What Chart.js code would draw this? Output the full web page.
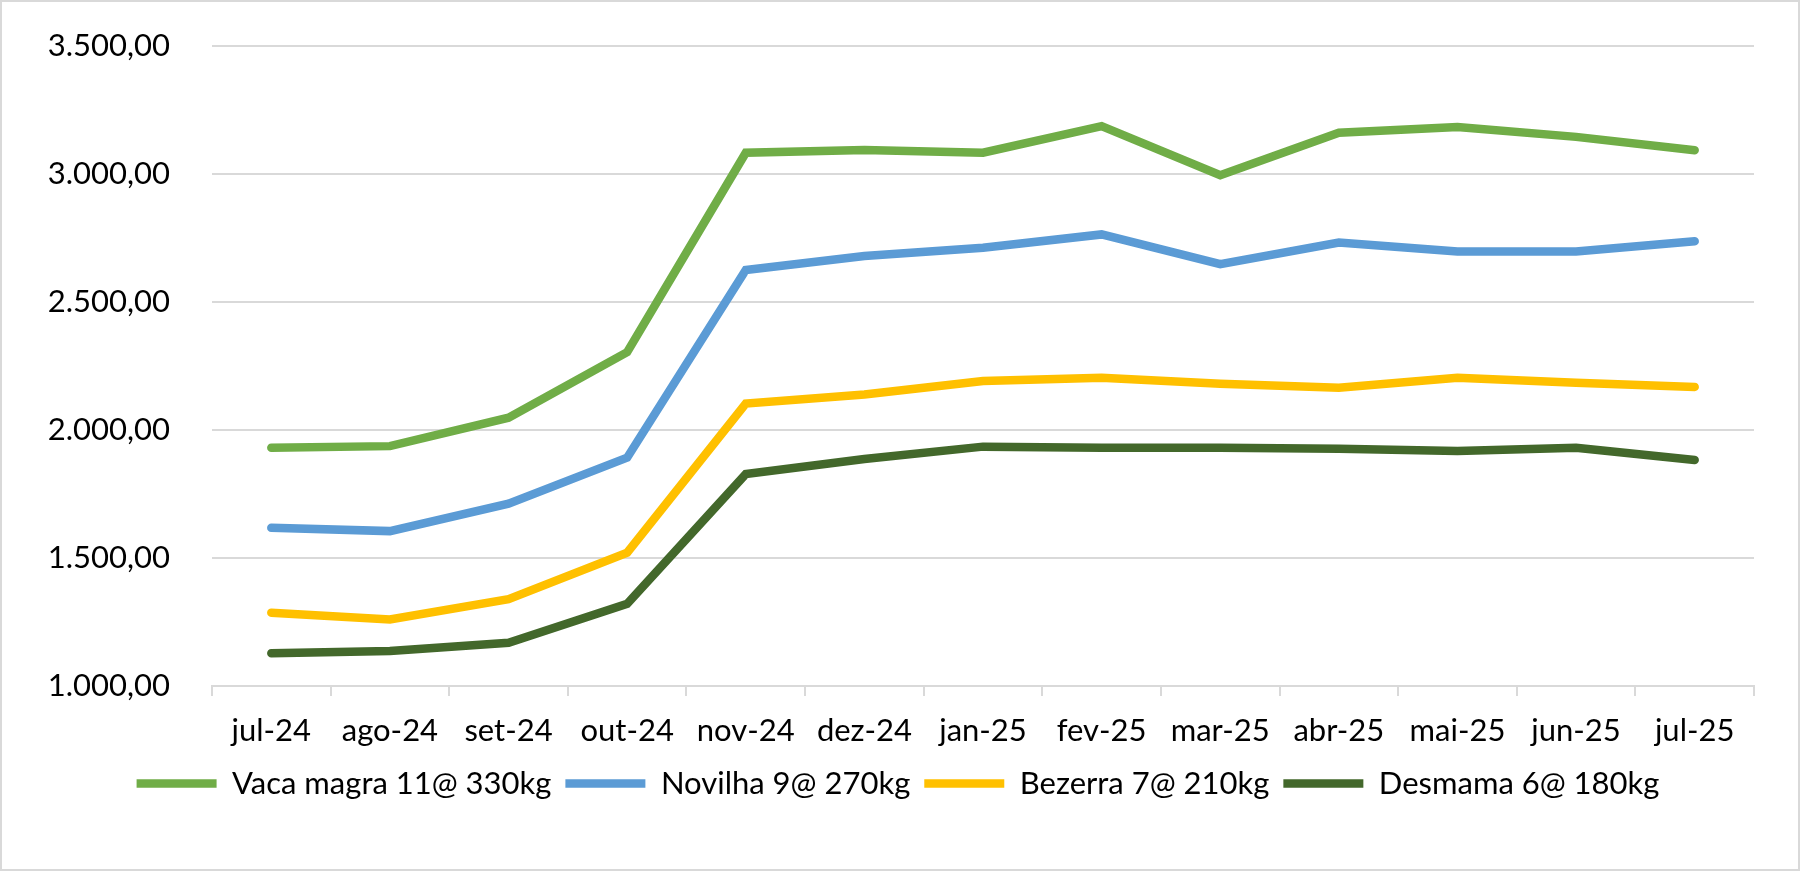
<!DOCTYPE html>
<html>
<head>
<meta charset="utf-8">
<script src="https://cdn.jsdelivr.net/npm/chart.js@4.4.1/dist/chart.umd.min.js"></script>
<style>
    html, body { margin: 0; padding: 0; background: #fff; }
    #wrap {
        width: 1800px;
        height: 871px;
        box-sizing: border-box;
        border: 2px solid #d9d9d9;
        position: relative;
    }
    #chart { display: block; }
</style>
</head>
<body>
<div id="wrap"><canvas id="chart" width="1796" height="867"></canvas></div>
<script>
// Chart data
const months = ['jul-24', 'ago-24', 'set-24', 'out-24', 'nov-24', 'dez-24', 'jan-25',
                'fev-25', 'mar-25', 'abr-25', 'mai-25', 'jun-25', 'jul-25'];

const vacaMagra = [1931, 1937, 2048, 2304, 3083, 3094, 3083, 3187, 2995, 3161, 3184, 3145, 3093];
const novilha   = [1618, 1605, 1712, 1892, 2625, 2680, 2712, 2764, 2648, 2732, 2697, 2697, 2737];
const bezerra   = [1286, 1260, 1339, 1521, 2103, 2139, 2191, 2204, 2181, 2165, 2204, 2185, 2168];
const desmama   = [1128, 1137, 1169, 1321, 1828, 1887, 1935, 1931, 1931, 1927, 1918, 1931, 1883];

const seriesNames = ['Vaca magra 11@ 330kg', 'Novilha 9@ 270kg', 'Bezerra 7@ 210kg', 'Desmama 6@ 180kg'];
const yTicks = [1000, 1500, 2000, 2500, 3000, 3500];

// pt-BR number format: 3.500,00
function formatBR(v) {
    const parts = v.toFixed(2).split('.');
    const intPart = parts[0].replace(/\B(?=(\d{3})+(?!\d))/g, '.');
    return intPart + ',' + parts[1];
}

const FONT = 'Lato, "Open Sans", sans-serif';
const FONT_SIZE = 31;

function lineSet(label, data, color) {
    return {
        label: label,
        data: data,
        borderColor: color,
        backgroundColor: color,
        borderWidth: 8.5,
        borderCapStyle: 'round',
        pointRadius: 0,
        pointHoverRadius: 0,
        tension: 0
    };
}

new Chart(document.getElementById('chart'), {
    type: 'line',
    data: {
        labels: months,
        datasets: [
            lineSet(seriesNames[0], vacaMagra, '#70AD47'),
            lineSet(seriesNames[1], novilha, '#5B9BD5'),
            lineSet(seriesNames[2], bezerra, '#FFC000'),
            lineSet(seriesNames[3], desmama, '#43682B')
        ]
    },
    options: {
        responsive: false,
        animation: false,
        layout: {
            padding: { left: 40, right: 44, top: 44, bottom: 60 }
        },
        plugins: {
            tooltip: { enabled: false },
            legend: {
                position: 'bottom',
                labels: {
                    color: '#000',
                    font: { family: FONT, size: FONT_SIZE },
                    usePointStyle: true,
                    pointStyle: 'line',
                    pointStyleWidth: 80,
                    padding: 14
                }
            }
        },
        scales: {
            x: {
                offset: true,
                grid: {
                    offset: true,
                    drawOnChartArea: false,
                    drawTicks: true,
                    tickLength: 10,
                    color: '#d9d9d9',
                    lineWidth: 2
                },
                border: { color: '#d9d9d9', width: 2 },
                ticks: {
                    color: '#000',
                    font: { family: FONT, size: FONT_SIZE },
                    padding: 16,
                    maxRotation: 0,
                    autoSkip: false
                },
                afterFit: s => { s.height = 68; }
            },
            y: {
                min: yTicks[0],
                max: yTicks[yTicks.length - 1],
                grid: {
                    color: '#d9d9d9',
                    lineWidth: 2,
                    drawTicks: true,
                    tickLength: 40,
                    tickColor: 'rgba(0,0,0,0)'   // invisible, only spaces the labels
                },
                border: { display: false },
                afterBuildTicks: s => { s.ticks = yTicks.map(v => ({ value: v })); },
                ticks: {
                    color: '#000',
                    font: { family: FONT, size: FONT_SIZE },
                    padding: 2,
                    callback: v => formatBR(v)
                },
                afterFit: s => { s.width = 170; }
            }
        }
    }
});
</script>
</body>
</html>
